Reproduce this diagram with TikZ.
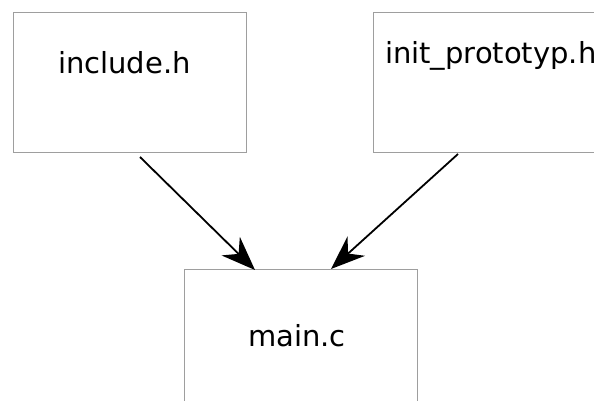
\documentclass[tikz,border=0pt]{standalone}
\usepackage{fontspec}
\setmainfont{DejaVu Sans}
\usetikzlibrary{arrows.meta}
\begin{document}
\begin{tikzpicture}[x=1pt,y=-1pt,
  filebox/.style={draw=black!38, line width=1pt, fill=white},
  lbl/.style={anchor=base west, inner sep=0pt, font=\fontsize{29}{34}\selectfont},
  dep/.style={line width=1.8pt, -{Stealth[length=34pt,width=26pt,inset=11pt]}}]
\useasboundingbox (0,0) rectangle (594,401);
\clip (0,0) rectangle (594,401);
\fill[white] (0,0) rectangle (594,401);
\draw[filebox] (13,13) rectangle (246,152);
\draw[filebox] (373,13) rectangle (640,152);
\draw[filebox] (184,269) rectangle (417,440);
\node[lbl] (inc) at (57.8,73.3) {include.h};
\node[lbl] (ini) at (384.8,63.3) {init\_prototyp.h};
\node[lbl] (mainc) at (247.8,346.5) {main.c};
\coordinate (s1) at (140,157);
\coordinate (e1) at (255,270);
\coordinate (s2) at (458,154);
\coordinate (e2) at (331,269);
\draw[dep] (s1) -- (e1);
\draw[dep] (s2) -- (e2);
\end{tikzpicture}
\end{document}
